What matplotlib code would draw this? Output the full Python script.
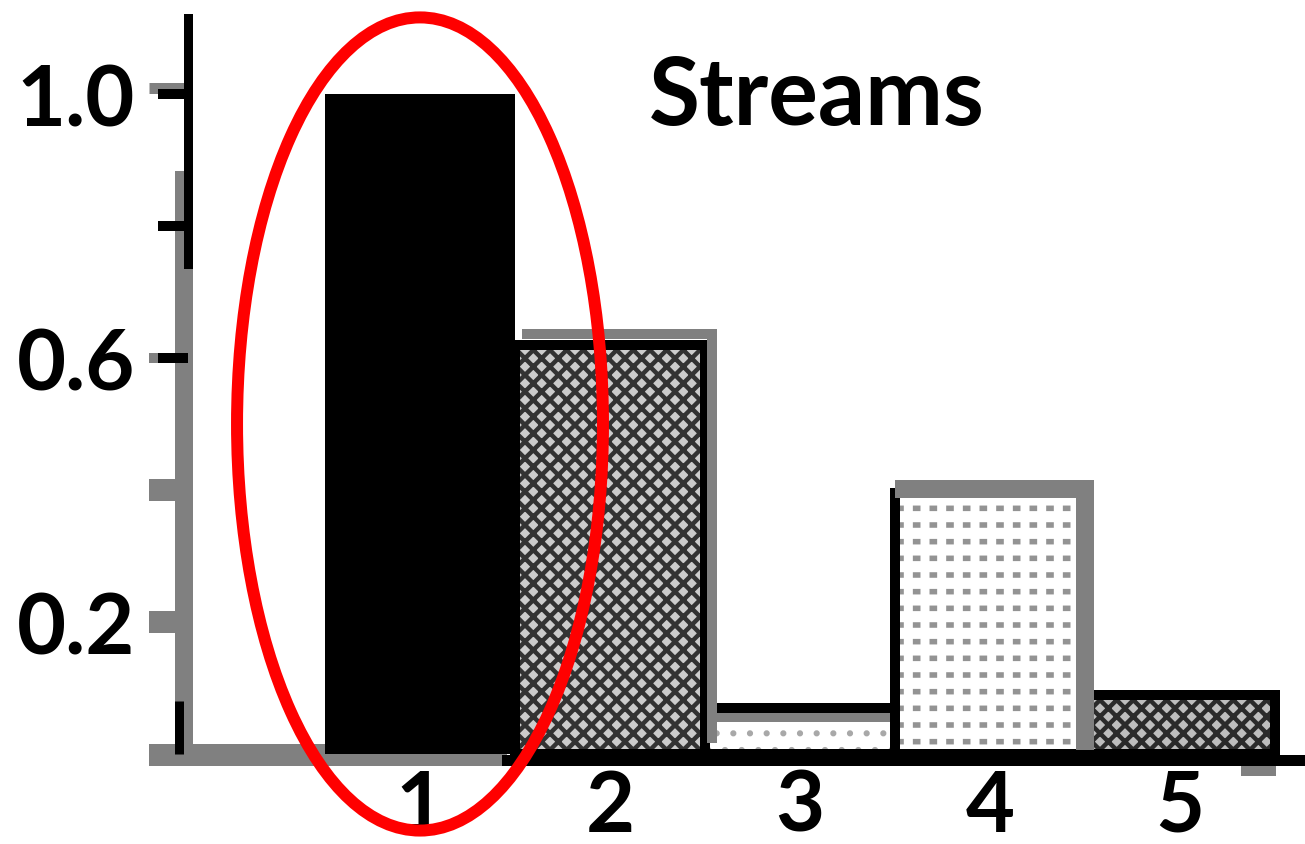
import matplotlib
matplotlib.use("Agg")
import matplotlib.pyplot as plt
from matplotlib import transforms
from matplotlib.patches import Ellipse

# chart data
categories = ["1", "2", "3", "4", "5"]
values = [1.0, 0.62, 0.07, 0.395, 0.09]
y_ticks = [0.2, 0.6, 1.0]
y_tick_labels = ["0.2", "0.6", "1.0"]
minor_ticks = [0.4, 0.8]
title_text = "Streams"

# bar styling
face_colors = ["#000000", "#cccccc", "#ffffff", "#ffffff", "#bdbdbd"]
hatches = [None, "xx", ".", "-", "xx"]
hatch_colors = ["#000000", "#333333", "#a8a8a8", "#939393", "#2a2a2a"]
hatch_widths = [1.0, 3.2, 2.0, 4.0, 3.2]
# gray "ghost" edge: (dx px, dy px, width px, draw right edge?)
shadow_edges = [None, (7, 11, 10, True), (0, -9, 10, False), (0, 4, 18, True), None]

DPI = 100
PT = 72 / DPI  # points per pixel
GRAY = "#808080"

plt.rcParams["font.family"] = ["Lato", "DejaVu Sans"]
plt.rcParams["font.weight"] = "bold"

fig = plt.figure(figsize=(13.05, 8.45), dpi=DPI)
ax = fig.add_axes([188 / 1305, 84 / 845, 1117 / 1305, 761 / 845])
ax.set_xlim(-0.2211, 5.658)
ax.set_ylim(-0.0091, 1.1439)

x = list(range(1, len(categories) + 1))


def hatched_bar(xi, v, fc, h, hc, hw, z):
    with plt.rc_context({"hatch.linewidth": hw}):
        bars = ax.bar(xi, v, width=1.0, color=fc, hatch=h, edgecolor=hc,
                      linewidth=0, zorder=z)
    for b in bars:
        if hasattr(b, "set_hatch_linewidth"):
            b.set_hatch_linewidth(hw)
    return bars


# hatched fills
for xi, v, fc, h, hc, hw in zip(x, values, face_colors, hatches, hatch_colors, hatch_widths):
    hatched_bar(xi, v, fc, h, hc, hw, 2)
# break the gray lines of bar 4 into dashes
hatched_bar(x[3], values[3], "none", "|", "white", 6.5, 2.1)

# black outlines
for xi, v in zip(x[1:], values[1:]):
    ax.bar(xi, v, width=1.0, fill=False, edgecolor="black", linewidth=10 * PT, zorder=3)

# gray offset edges (top, and right side for some bars)
for xi, v, sh in zip(x, values, shadow_edges):
    if sh is None:
        continue
    dx, dy, w, right = sh
    tr = transforms.offset_copy(ax.transData, fig=fig, x=dx, y=dy, units="dots")
    xs = [xi - 0.5, xi + 0.5] + ([xi + 0.5] if right else [])
    ys = [v, v] + ([0] if right else [])
    z = 2.5 if dy < 0 else 4
    ax.plot(xs, ys, color=GRAY, lw=w * PT, transform=tr, zorder=z,
            solid_capstyle="butt", solid_joinstyle="miter")

# bar 1 sits on top of bar 2's left edge
ax.bar(x[0], values[0], width=1.0, color="black", linewidth=0, zorder=5)

# axis spines (split black / gray look)
for side in ["top", "right"]:
    ax.spines[side].set_visible(False)
ax.spines["left"].set_bounds(0.742, 1.115)
ax.spines["left"].set_linewidth(9 * PT)
ax.spines["bottom"].set_bounds(1.458, 5.658)
ax.spines["bottom"].set_linewidth(11 * PT)
ax.spines["bottom"].set_zorder(4.5)
ax.plot([-0.242, -0.242], [0.883, -0.018], color=GRAY, lw=18 * PT,
        solid_capstyle="butt", clip_on=False, zorder=1)
ax.plot([-0.266, -0.266], [0.080, 0.0], color="black", lw=9 * PT,
        solid_capstyle="butt", clip_on=False, zorder=1.5)
ax.plot([-0.426, 1.458], [-0.0015, -0.0015], color=GRAY, lw=22 * PT,
        solid_capstyle="butt", clip_on=False, zorder=1)
ax.plot([5.32, 5.505], [-0.026, -0.026], color=GRAY, lw=10 * PT,
        solid_capstyle="butt", clip_on=False, zorder=1)

# ticks
ax.set_yticks(y_ticks, y_tick_labels)
ax.set_yticks(minor_ticks, minor=True)
ax.tick_params(axis="y", which="both", direction="out", length=30 * PT,
               width=10 * PT, pad=23 * PT, labelsize=61)
major_style = [(GRAY, 22, 39), ("black", 10, 30), ("black", 10, 30)]
minor_style = [(GRAY, 22, 39), ("black", 10, 30)]
for tick, (c, w, ln) in zip(ax.yaxis.get_major_ticks(), major_style):
    tick.tick1line.set_markeredgecolor(c)
    tick.tick1line.set_markeredgewidth(w * PT)
    tick.tick1line.set_markersize(ln * PT)
for tick, (c, w, ln) in zip(ax.yaxis.get_minor_ticks(), minor_style):
    tick.tick1line.set_markeredgecolor(c)
    tick.tick1line.set_markeredgewidth(w * PT)
    tick.tick1line.set_markersize(ln * PT)
# gray stubs on the black ticks
ax.plot([-0.426, -0.221], [1.0 + 6 / 660, 1.0 + 6 / 660], color=GRAY, lw=11 * PT,
        solid_capstyle="butt", clip_on=False, zorder=0.5)
ax.plot([-0.426, -0.379], [0.6, 0.6], color=GRAY, lw=10 * PT,
        solid_capstyle="butt", clip_on=False, zorder=0.5)

ax.set_xticks(x, categories)
ax.tick_params(axis="x", length=0, pad=8 * PT, labelsize=61)

ax.text(3.09, 0.9545, title_text, ha="center", va="baseline", fontsize=67,
        fontweight="bold")

# red highlight around the first bar
ax.add_patch(Ellipse((x[0], values[0] / 2), 1.926, 1.232, fill=False,
                     edgecolor="#ff0000", linewidth=12 * PT, clip_on=False, zorder=10))

fig.savefig("out.png", dpi=DPI)
